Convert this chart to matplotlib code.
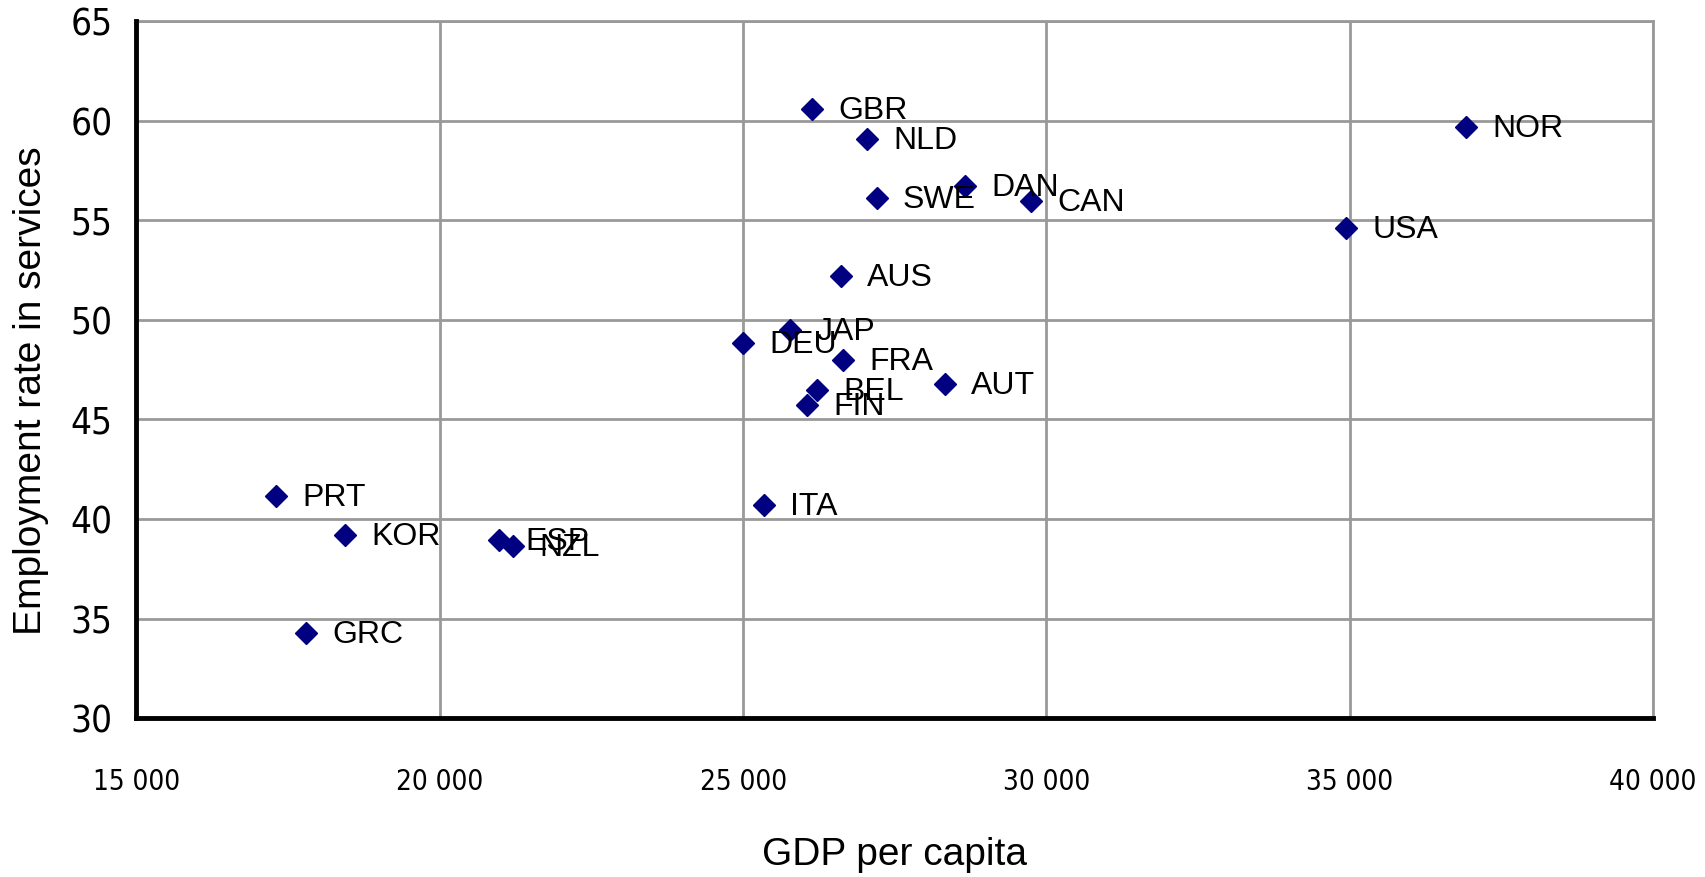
import matplotlib
matplotlib.use("Agg")
from matplotlib import pyplot as plt
from matplotlib.ticker import FuncFormatter

# GDP per capita vs employment rate in services
countries = ["GBR", "NLD", "NOR", "DAN", "SWE", "CAN", "USA", "AUS", "JAP", "DEU",
             "FRA", "AUT", "BEL", "FIN", "ITA", "PRT", "KOR", "ESP", "NZL", "GRC"]
gdp = [26130, 27040, 36910, 28660, 27200, 29750, 34940, 26610, 25770, 25000,
       26650, 28320, 26220, 26060, 25340, 17300, 18430, 20980, 21210, 17800]
emp = [60.6, 59.1, 59.7, 56.7, 56.1, 55.95, 54.6, 52.2, 49.5, 48.85,
       48.0, 46.8, 46.5, 45.75, 40.7, 41.15, 39.2, 38.95, 38.65, 34.3]

plt.rcParams["font.family"] = ["Liberation Sans", "DejaVu Sans"]

fig = plt.figure(figsize=(17.06, 8.77), dpi=100)
ax = fig.add_axes([0.080, 0.181, 0.889, 0.795])

ax.plot(gdp, emp, linestyle="none", marker="D", markersize=11.5,
        color="#000080", zorder=3, clip_on=False)
for name, x, y in zip(countries, gdp, emp):
    ax.annotate(name, (x, y), xytext=(19, -1.5), textcoords="offset points",
                va="center", ha="left", fontsize=23, color="black", zorder=4)

ax.set_xlim(15000, 40000)
ax.set_ylim(30, 65)
ax.set_xticks(range(15000, 40001, 5000))
ax.set_yticks(range(30, 66, 5))
ax.xaxis.set_major_formatter(FuncFormatter(lambda v, p: f"{int(v):,}".replace(",", " ")))

ax.grid(True, color="#999999", linewidth=2)
ax.set_axisbelow(True)
for side in ["top", "right"]:
    ax.spines[side].set_color("#999999")
    ax.spines[side].set_linewidth(2)
for side in ["left", "bottom"]:
    ax.spines[side].set_color("black")
    ax.spines[side].set_linewidth(3.5)
    ax.spines[side].set_zorder(5)

ax.tick_params(axis="both", length=0)
ax.tick_params(axis="y", pad=17)
ax.tick_params(axis="x", pad=36)
for lab in ax.get_yticklabels():
    lab.set_fontfamily("DejaVu Sans")
    lab.set_fontstretch("condensed")
    lab.set_fontsize(26.5)
for lab in ax.get_xticklabels():
    lab.set_fontfamily("DejaVu Sans")
    lab.set_fontstretch("condensed")
    lab.set_fontsize(20)

ax.set_xlabel("GDP per capita", fontsize=28)
ax.xaxis.set_label_coords(0.5, -0.170)
ax.set_ylabel("Employment rate in services", fontsize=28)
ax.yaxis.set_label_coords(-0.058, 0.47)

fig.savefig("out.png", dpi=100)
